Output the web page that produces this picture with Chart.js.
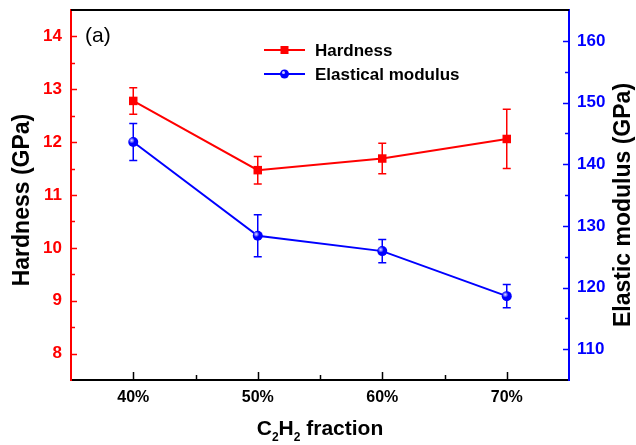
<!DOCTYPE html>
<html>
<head>
<meta charset="utf-8">
<script src="https://cdn.jsdelivr.net/npm/chart.js@4.4.1/dist/chart.umd.min.js"></script>
<style>
  html, body { margin: 0; padding: 0; background: #fff; }
</style>
</head>
<body>
<canvas id="chart" width="636" height="445"></canvas>
<script>
// values
const fractions = [40, 50, 60, 70];
const hardness = [12.78, 11.47, 11.69, 12.06];
const hardnessErr = [0.25, 0.26, 0.29, 0.56];
const modulus = [143.6, 128.4, 125.9, 118.6];
const modulusErr = [3.0, 3.4, 1.9, 1.9];

const xTicks = [40, 50, 60, 70];
const hardnessTicks = [8, 9, 10, 11, 12, 13, 14];
const modulusTicks = [110, 120, 130, 140, 150, 160];

const FONT = '"Liberation Sans", Arial, sans-serif';
const RED = '#ff0000';
const BLUE = '#0000ff';

// error bars, inward ticks, titles, legend
const decor = {
    id: 'decor',
    beforeDatasetsDraw(chart) {
        const ctx = chart.ctx;
        const { left, right, top, bottom } = chart.chartArea;
        const xs = chart.scales.x, ys = chart.scales.y, ys1 = chart.scales.y1;

        ctx.save();
        // error bars
        const bars = [[ys, hardness, hardnessErr, RED], [ys1, modulus, modulusErr, BLUE]];
        bars.forEach(([scale, vals, errs, col]) => {
            ctx.strokeStyle = col;
            ctx.lineWidth = 1.5;
            vals.forEach((v, i) => {
                const x = xs.getPixelForValue(fractions[i]);
                const y1 = scale.getPixelForValue(v + errs[i]);
                const y2 = scale.getPixelForValue(v - errs[i]);
                ctx.beginPath();
                ctx.moveTo(x, y1); ctx.lineTo(x, y2);
                ctx.moveTo(x - 4, y1); ctx.lineTo(x + 4, y1);
                ctx.moveTo(x - 4, y2); ctx.lineTo(x + 4, y2);
                ctx.stroke();
            });
        });

        // inward ticks
        ctx.lineWidth = 1.5;
        ctx.strokeStyle = RED;
        for (let v = 8; v <= 14; v += 0.5) {
            const y = Math.round(ys.getPixelForValue(v)) + 0.5;
            const len = Number.isInteger(v) ? 6 : 4;
            ctx.beginPath(); ctx.moveTo(left, y); ctx.lineTo(left + len, y); ctx.stroke();
        }
        ctx.strokeStyle = BLUE;
        for (let v = 110; v <= 160; v += 5) {
            const y = Math.round(ys1.getPixelForValue(v)) + 0.5;
            const len = v % 10 === 0 ? 6 : 4;
            ctx.beginPath(); ctx.moveTo(right, y); ctx.lineTo(right - len, y); ctx.stroke();
        }
        ctx.strokeStyle = '#000';
        for (let v = 40; v <= 70; v += 5) {
            const x = Math.round(xs.getPixelForValue(v)) + 0.5;
            const len = v % 10 === 0 ? 8 : 5;
            ctx.beginPath(); ctx.moveTo(x, bottom); ctx.lineTo(x, bottom - len); ctx.stroke();
        }
        ctx.restore();
    },
    afterDatasetsDraw(chart) {
        // little highlight on the blue balls
        const ctx = chart.ctx;
        const meta = chart.getDatasetMeta(1);
        ctx.save();
        meta.data.forEach(pt => {
            const g = ctx.createRadialGradient(pt.x - 1.5, pt.y - 1.5, 0, pt.x - 1.5, pt.y - 1.5, 3);
            g.addColorStop(0, 'rgba(255,255,255,0.9)');
            g.addColorStop(1, 'rgba(255,255,255,0)');
            ctx.fillStyle = g;
            ctx.beginPath(); ctx.arc(pt.x - 1.5, pt.y - 1.5, 3, 0, Math.PI * 2); ctx.fill();
        });
        ctx.restore();
    },
    afterDraw(chart) {
        const ctx = chart.ctx;
        const { left, right, top, bottom } = chart.chartArea;
        ctx.save();

        // top frame line
        ctx.strokeStyle = '#000';
        ctx.lineWidth = 2;
        ctx.beginPath(); ctx.moveTo(left, top); ctx.lineTo(right, top); ctx.stroke();

        // axis titles
        ctx.fillStyle = '#000';
        ctx.textAlign = 'center';
        ctx.textBaseline = 'middle';
        ctx.font = 'bold 23px ' + FONT;
        ctx.save(); ctx.translate(23, 200); ctx.rotate(-Math.PI / 2);
        ctx.fillText('Hardness (GPa)', 0, 0); ctx.restore();
        ctx.save(); ctx.translate(624, 205); ctx.rotate(-Math.PI / 2);
        ctx.fillText('Elastic modulus (GPa)', 0, 0); ctx.restore();

        // x title with subscripts
        const parts = [['C', 21, 0], ['2', 12, 6], ['H', 21, 0], ['2', 12, 6], [' fraction', 21, 0]];
        let w = 0;
        parts.forEach(p => { ctx.font = 'bold ' + p[1] + 'px ' + FONT; w += ctx.measureText(p[0]).width; });
        let x = (left + right) / 2 - w / 2;
        ctx.textAlign = 'left';
        ctx.textBaseline = 'alphabetic';
        parts.forEach(p => {
            ctx.font = 'bold ' + p[1] + 'px ' + FONT;
            ctx.fillText(p[0], x, 435 + p[2]);
            x += ctx.measureText(p[0]).width;
        });

        // panel label
        ctx.font = '21px ' + FONT;
        ctx.textBaseline = 'middle';
        ctx.fillText('(a)', 85, 36);

        // legend
        const items = [['Hardness', RED, 'rect', 50], ['Elastical modulus', BLUE, 'circle', 74]];
        items.forEach(([text, col, style, y]) => {
            ctx.strokeStyle = col;
            ctx.fillStyle = col;
            ctx.lineWidth = 2;
            ctx.beginPath(); ctx.moveTo(264, y); ctx.lineTo(305, y); ctx.stroke();
            if (style === 'rect') {
                ctx.fillRect(280.5, y - 4, 8, 8);
            } else {
                ctx.beginPath(); ctx.arc(284.5, y, 4.5, 0, Math.PI * 2); ctx.fill();
                ctx.fillStyle = 'rgba(255,255,255,0.8)';
                ctx.beginPath(); ctx.arc(283.5, y - 1.5, 1.5, 0, Math.PI * 2); ctx.fill();
            }
            ctx.fillStyle = '#000';
            ctx.font = 'bold 17px ' + FONT;
            ctx.fillText(text, 315, y + 1);
        });
        ctx.restore();
    }
};

new Chart(document.getElementById('chart'), {
    type: 'line',
    data: {
        datasets: [
            {
                label: 'Hardness',
                data: fractions.map((f, i) => ({ x: f, y: hardness[i] })),
                yAxisID: 'y',
                borderColor: RED,
                backgroundColor: RED,
                borderWidth: 2,
                pointStyle: 'rect',
                pointRadius: 6,
                pointBorderWidth: 0,
                tension: 0
            },
            {
                label: 'Elastical modulus',
                data: fractions.map((f, i) => ({ x: f, y: modulus[i] })),
                yAxisID: 'y1',
                borderColor: BLUE,
                backgroundColor: BLUE,
                borderWidth: 2,
                pointStyle: 'circle',
                pointRadius: 5,
                pointBorderWidth: 0,
                tension: 0
            }
        ]
    },
    options: {
        responsive: false,
        animation: false,
        devicePixelRatio: 1,
        layout: { padding: { top: 10, left: 0, right: 0, bottom: 0 } },
        plugins: {
            legend: { display: false },
            tooltip: { enabled: false }
        },
        scales: {
            x: {
                type: 'linear',
                position: 'bottom',
                min: 35,
                max: 75,
                afterBuildTicks: s => { s.ticks = xTicks.map(v => ({ value: v })); },
                afterFit: s => { s.height = 65; s.paddingLeft = 0; s.paddingRight = 0; },
                ticks: {
                    callback: v => v + '%',
                    color: '#000',
                    font: { family: FONT, weight: 'bold', size: 16 },
                    padding: 8,
                    maxRotation: 0
                },
                grid: { display: false, drawTicks: false },
                border: { display: true, color: '#000', width: 2 }
            },
            y: {
                position: 'left',
                min: 7.5,
                max: 14.5,
                afterBuildTicks: s => { s.ticks = hardnessTicks.map(v => ({ value: v })); },
                afterFit: s => { s.width = 71; s.paddingTop = 0; s.paddingBottom = 0; },
                ticks: {
                    color: RED,
                    font: { family: FONT, weight: 'bold', size: 17 },
                    padding: 9
                },
                grid: { display: false, drawTicks: false },
                border: { display: true, color: RED, width: 2 }
            },
            y1: {
                position: 'right',
                min: 105,
                max: 165,
                afterBuildTicks: s => { s.ticks = modulusTicks.map(v => ({ value: v })); },
                afterFit: s => { s.width = 67; s.paddingTop = 0; s.paddingBottom = 0; },
                ticks: {
                    color: BLUE,
                    font: { family: FONT, weight: 'bold', size: 17 },
                    padding: 8
                },
                grid: { display: false, drawTicks: false },
                border: { display: true, color: BLUE, width: 2 }
            }
        }
    },
    plugins: [decor]
});
</script>
</body>
</html>
